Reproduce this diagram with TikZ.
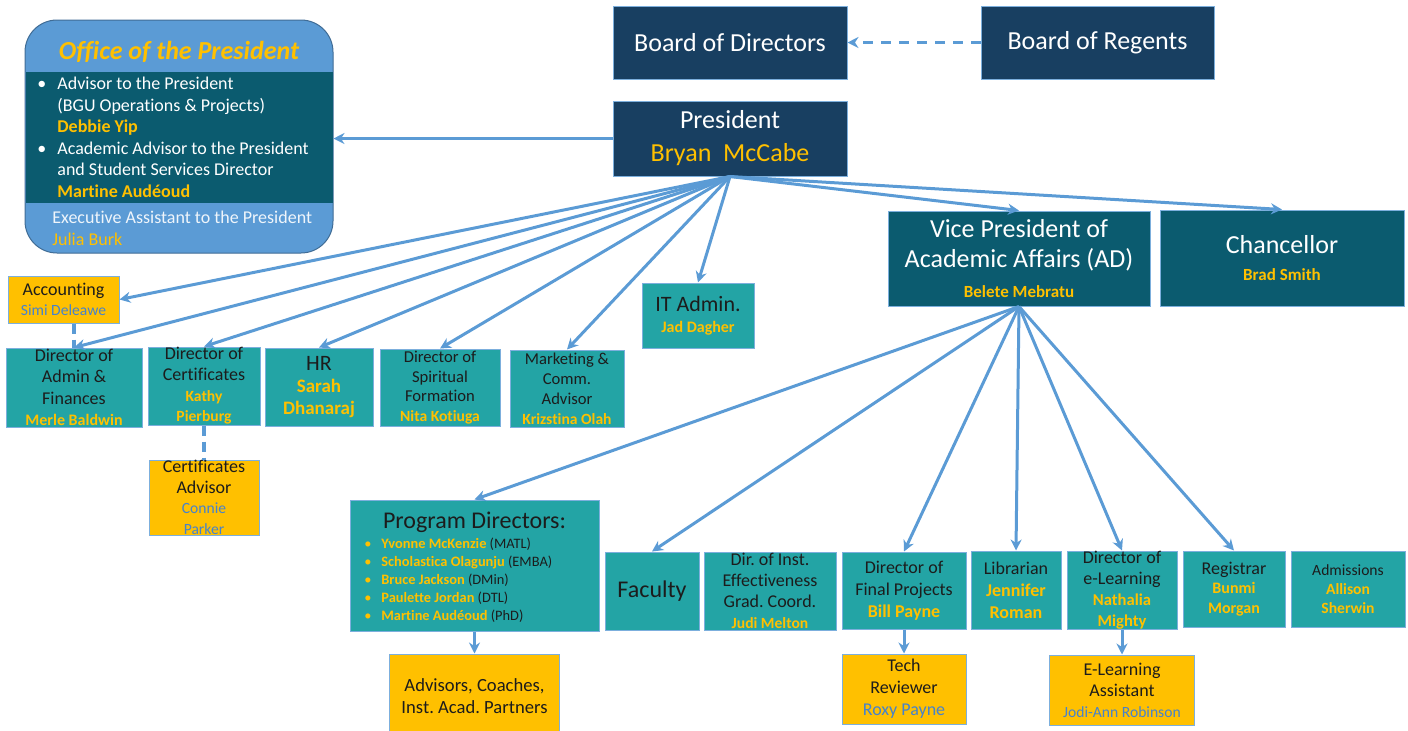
\documentclass[tikz,border=0pt]{standalone}
\usepackage{fontspec}
\setmainfont{Carlito}[Ligatures=NoCommon]
\usetikzlibrary{positioning,arrows.meta}
\frenchspacing
\definecolor{navy}{RGB}{24,63,97}
\definecolor{deepteal}{RGB}{11,91,111}
\definecolor{boxteal}{RGB}{35,164,165}
\definecolor{orgold}{RGB}{255,192,0}
\definecolor{linkblue}{RGB}{91,155,213}
\definecolor{nameblue}{RGB}{70,130,205}
\definecolor{darktext}{RGB}{28,28,28}
\newcommand{\boxfont}[2]{\fontsize{#1}{#2}\selectfont}
\newcommand{\who}[1]{{\bfseries\color{orgold}#1}}
\newcommand{\whob}[1]{{\color{nameblue}#1}}
\newcommand{\pdit}[2]{\makebox[8.5pt][l]{\textcolor{orgold}{\textbullet}}\who{#1} {\color{darktext}#2}}
\tikzset{%
  boxsize/.style 2 args={minimum width=0.5pt*#1,minimum height=0.5pt*#2},
  box/.style={draw=linkblue!80,line width=0.5pt,inner sep=0pt,align=center},
  navybox/.style={box,fill=navy,text=white},
  deepbox/.style={box,fill=deepteal,text=white},
  unitbox/.style={box,fill=boxteal,text=darktext},
  helpbox/.style={box,fill=orgold,text=darktext},
  link/.style={draw=linkblue,line width=1.5pt,-{Stealth[length=5.5pt,width=5.5pt]}},
  dotlink/.style={draw=linkblue,line width=2pt,dash pattern=on 5pt off 3pt}
}

\begin{document}
\begin{tikzpicture}[x=0.5pt,y=-0.5pt]
  \clip (0,0) rectangle (1408,730);

  % office of the president
  \node[box,boxsize={308}{233},rounded corners=16pt,fill=linkblue,draw=linkblue!70!black] (office) at (179,136.5) {};
  \fill[deepteal] (25.5,72) rectangle (332.5,203);
  \node[font=\boxfont{13}{15}\bfseries\itshape,text=orgold] (offtitle) at (179,52) {Office of the President};
  \node[anchor=north west,align=left,inner sep=0pt,text=white,font=\boxfont{9}{10.75}] (offlist) at (37,77) {%
    \makebox[10pt][l]{\textbullet}Advisor to the President\\
    \hspace*{10pt}(BGU Operations \& Projects)\\
    \hspace*{10pt}\who{Debbie Yip}\\
    \makebox[10pt][l]{\textbullet}Academic Advisor to the President\\
    \hspace*{10pt}and Student Services Director\\
    \hspace*{10pt}\who{Martine Aud\'eoud}};
  \node[anchor=north west,align=left,inner sep=0pt,text=white!90!linkblue,font=\boxfont{9}{10.75}] (offexec) at (52,211) {%
    Executive Assistant to the President\\
    \textcolor{orgold}{Julia Burk}};

  % top of the chart
  \node[navybox,boxsize={234}{73},font=\boxfont{13}{16}] (bod) at (730,42.5) {Board of Directors};
  \node[navybox,boxsize={233}{73},font=\boxfont{13}{16}] (bor) at (1097.5,42.5) {Board of Regents};
  \node[navybox,boxsize={234}{75},font=\boxfont{13}{16.5}] (pres) at (730,138.5) {President\\\textcolor{orgold}{Bryan\ \ McCabe}};
  \node[deepbox,boxsize={262}{95},font=\boxfont{13}{15}] (vp) at (1019,258.5) {Vice President of\\Academic Affairs (AD)\\{\boxfont{8.5}{15}\who{Belete Mebratu}}};
  \node[deepbox,boxsize={244}{96},font=\boxfont{13}{13.5}] (chanc) at (1282,258) {Chancellor\\{\boxfont{8.5}{13.5}\who{Brad Smith}}};
  \node[unitbox,boxsize={112}{65},font=\boxfont{11}{10.5}] (itad) at (698,315.5) {IT Admin.\\{\boxfont{8}{10.5}\who{Jad Dagher}}};

  % president's staff
  \node[helpbox,boxsize={111}{47},font=\boxfont{9}{10}] (acct) at (63.5,299.5) {Accounting\\{\boxfont{7.8}{10}\whob{Simi Deleawe}}};
  \node[unitbox,boxsize={136}{79},font=\boxfont{9}{10.75}] (admin) at (74,387.5) {Director of\\Admin \&\\Finances\\{\boxfont{8}{10.75}\who{Merle Baldwin}}};
  \node[unitbox,boxsize={112}{78},font=\boxfont{9}{10.3}] (cert) at (204,386) {Director of\\Certificates\\{\boxfont{7.8}{10.3}\who{Kathy}}\\{\boxfont{7.8}{10.3}\who{Pierburg}}};
  \node[unitbox,boxsize={108}{78},font=\boxfont{11}{11}] (hr) at (319,387) {HR\\{\boxfont{9.5}{10.5}\who{Sarah}}\\{\boxfont{9.5}{10.5}\who{Dhanaraj}}};
  \node[unitbox,boxsize={120}{77},font=\boxfont{8.3}{9.75}] (spirit) at (440,387.5) {Director of\\Spiritual\\Formation\\{\boxfont{7.8}{9.75}\who{Nita Kotiuga}}};
  \node[unitbox,boxsize={114}{77},font=\boxfont{8.3}{10}] (mkt) at (567,388.5) {Marketing \&\\Comm.\\Advisor\\{\boxfont{7.8}{10}\who{Krizstina Olah}}};
  \node[helpbox,boxsize={110}{75},font=\boxfont{9}{10.3},below=17pt of cert] (certadv) {Certificates\\Advisor\\{\boxfont{7.8}{10.3}\whob{Connie}}\\{\boxfont{7.8}{10.3}\whob{Parker}}};

  % academic affairs
  \node[unitbox,boxsize={249}{131}] (progdir) at (474.5,565.5) {};
  \node[font=\boxfont{12}{14},text=darktext] (pdtitle) at (474.5,522) {Program Directors:};
  \node[anchor=north west,align=left,inner sep=0pt,font=\boxfont{7.2}{9}] (pdlist) at (364,538) {%
    \pdit{Yvonne McKenzie}{(MATL)}\\
    \pdit{Scholastica Olagunju}{(EMBA)}\\
    \pdit{Bruce Jackson}{(DMin)}\\
    \pdit{Paulette Jordan}{(DTL)}\\
    \pdit{Martine Aud\'eoud}{(PhD)}};
  \node[helpbox,boxsize={170}{84},font=\boxfont{9.3}{11},below=11pt of progdir] (advisors) {Advisors, Coaches,\\Inst. Acad. Partners};
  \node[unitbox,boxsize={94}{78},font=\boxfont{12}{14}] (faculty) at (652,591) {Faculty};
  \node[unitbox,boxsize={132}{78},font=\boxfont{9}{10.5}] (instef) at (770,591) {Dir. of Inst.\\Effectiveness\\Grad. Coord.\\{\boxfont{7.8}{10.5}\who{Judi Melton}}};
  \node[unitbox,boxsize={124}{77},font=\boxfont{9}{11}] (finproj) at (904,590.5) {Director of\\Final Projects\\{\boxfont{9}{11}\who{Bill Payne}}};
  \node[unitbox,boxsize={90}{78},font=\boxfont{9}{11}] (libr) at (1016,590) {Librarian\\{\boxfont{9}{11}\who{Jennifer}}\\{\boxfont{9}{11}\who{Roman}}};
  \node[unitbox,boxsize={110}{78},font=\boxfont{9}{10.4}] (elearn) at (1122,590) {Director of\\e-Learning\\{\boxfont{8.3}{10.4}\who{Nathalia}}\\{\boxfont{8.3}{10.4}\who{Mighty}}};
  \node[unitbox,boxsize={102}{76},font=\boxfont{9}{9.75}] (regis) at (1234,589) {Registrar\\{\boxfont{8}{9.75}\who{Bunmi}}\\{\boxfont{8}{9.75}\who{Morgan}}};
  \node[unitbox,boxsize={114}{76},font=\boxfont{7.8}{9.5}] (admiss) at (1348,589) {Admissions\\{\boxfont{7.8}{9.5}\who{Allison}}\\{\boxfont{7.8}{9.5}\who{Sherwin}}};
  \node[helpbox,boxsize={124}{70},font=\boxfont{9}{11},below=12pt of finproj] (techrev) {Tech\\Reviewer\\{\boxfont{9}{11}\whob{Roxy Payne}}};
  \node[helpbox,boxsize={145}{70},font=\boxfont{9}{10.5},below=12.5pt of elearn] (elasst) {E-Learning\\Assistant\\{\boxfont{7.8}{10.5}\whob{Jodi-Ann Robinson}}};

  % connectors
  \draw[link,dash pattern=on 5pt off 4pt] (bor) -- (bod);
  \draw[link] (pres.west) -- (pres.west -| office.east);
  \draw[link] (pres.south) -- (acct.east);
  \foreach \unit in {admin,cert,hr,spirit,mkt,itad,vp,chanc}
    \draw[link] (pres.south) -- (\unit.north);
  \foreach \unit in {progdir,faculty,finproj,libr,elearn,regis}
    \draw[link] (vp.south) -- (\unit.north);
  \draw[link] (progdir.south) -- (advisors.north);
  \draw[link] (finproj.south) -- (techrev.north);
  \draw[link] (elearn.south) -- (elearn.south |- elasst.north);
  \draw[dotlink] (admin.north |- acct.south) -- (admin.north);
  \draw[dotlink] (cert.south) -- (certadv.north);
\end{tikzpicture}
\end{document}
